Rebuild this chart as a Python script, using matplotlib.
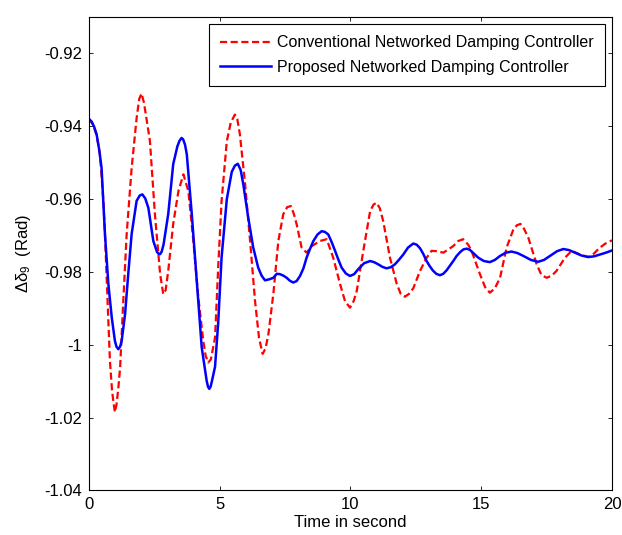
import matplotlib
matplotlib.use('Agg')
import matplotlib.pyplot as plt

plt.rcParams['font.family'] = ['Liberation Sans', 'DejaVu Sans']
plt.rcParams['mathtext.fontset'] = 'custom'
plt.rcParams['mathtext.rm'] = 'Liberation Sans'
plt.rcParams['mathtext.it'] = 'Liberation Sans:italic'

# Conventional networked damping controller
t_conv = [0.0, 0.15, 0.29, 0.42, 0.55, 0.61, 0.71, 0.8, 0.88, 0.93, 0.99, 1.05,
          1.12, 1.19, 1.31, 1.44, 1.63, 1.82, 1.92, 2.01, 2.1, 2.2, 2.33, 2.52,
          2.72, 2.84, 2.93, 3.03, 3.22, 3.42, 3.61, 3.8, 3.99, 4.18, 4.37, 4.46,
          4.56, 4.66, 4.82, 4.94, 5.07, 5.27, 5.42, 5.58, 5.67, 5.77, 5.97, 6.16,
          6.35, 6.5, 6.64, 6.75, 6.86, 7.05, 7.24, 7.43, 7.58, 7.72, 7.83, 7.94,
          8.13, 8.32, 8.52, 8.83, 9.09, 9.34, 9.6, 9.79, 9.98, 10.12, 10.24,
          10.49, 10.75, 10.88, 11.0, 11.12, 11.25, 11.51, 11.77, 11.92, 12.08,
          12.24, 12.4, 12.66, 12.91, 13.1, 13.3, 13.55, 13.93, 14.12, 14.31,
          14.5, 14.63, 14.95, 15.15, 15.33, 15.52, 15.72, 15.97, 16.23, 16.36,
          16.5, 16.64, 16.8, 17.12, 17.3, 17.5, 17.7, 17.88, 18.2, 18.46, 18.78,
          19.09, 19.3, 19.54, 19.75, 20.0]
d_conv = [-0.938, -0.9395, -0.9425, -0.9477, -0.9605, -0.9696, -0.988, -1.0044,
          -1.0125, -1.0155, -1.0185, -1.0165, -1.012, -1.0062, -0.988, -0.9696,
          -0.9515, -0.9378, -0.9325, -0.931, -0.9335, -0.938, -0.9441, -0.9641,
          -0.9806, -0.9861, -0.985, -0.9797, -0.9668, -0.9578, -0.9532, -0.9578,
          -0.9715, -0.987, -0.9989, -1.003, -1.0049, -1.004, -0.998, -0.9788,
          -0.9605, -0.9441, -0.939, -0.9368, -0.938, -0.9422, -0.9559, -0.9715,
          -0.988, -0.998, -1.0025, -1.001, -0.9971, -0.986, -0.9715, -0.9641,
          -0.9622, -0.9619, -0.964, -0.9669, -0.9733, -0.9747, -0.9729, -0.9715,
          -0.971, -0.9761, -0.9833, -0.988, -0.9898, -0.988, -0.9852, -0.9742,
          -0.9633, -0.9615, -0.961, -0.9625, -0.966, -0.9761, -0.9833, -0.986,
          -0.9868, -0.986, -0.9845, -0.9797, -0.9761, -0.9742, -0.9743, -0.9747,
          -0.9729, -0.9715, -0.971, -0.9725, -0.9742, -0.9806, -0.9842, -0.9857,
          -0.9845, -0.9816, -0.9733, -0.9683, -0.9672, -0.9668, -0.9682, -0.9706,
          -0.9779, -0.9808, -0.9816, -0.981, -0.9797, -0.9761, -0.9742, -0.9752,
          -0.9759, -0.975, -0.9733, -0.9722, -0.9713]

# Proposed networked damping controller
t_prop = [0.0, 0.1, 0.2, 0.29, 0.38, 0.48, 0.61, 0.74, 0.87, 0.99, 1.05, 1.12,
          1.19, 1.25, 1.38, 1.5, 1.63, 1.82, 1.94, 2.04, 2.15, 2.27, 2.46, 2.6,
          2.66, 2.72, 2.78, 2.85, 3.03, 3.22, 3.38, 3.46, 3.54, 3.6, 3.67, 3.74,
          3.93, 4.12, 4.31, 4.5, 4.55, 4.6, 4.65, 4.7, 4.82, 4.94, 5.07, 5.27,
          5.46, 5.58, 5.69, 5.8, 5.9, 6.09, 6.28, 6.47, 6.6, 6.73, 6.9, 7.05,
          7.18, 7.3, 7.43, 7.56, 7.68, 7.81, 7.94, 8.07, 8.2, 8.32, 8.45, 8.58,
          8.74, 8.9, 9.02, 9.15, 9.28, 9.41, 9.54, 9.66, 9.82, 9.98, 10.14, 10.3,
          10.52, 10.75, 10.9, 11.06, 11.22, 11.38, 11.54, 11.7, 11.86, 12.02,
          12.2, 12.4, 12.53, 12.66, 12.78, 12.91, 13.03, 13.15, 13.28, 13.42,
          13.55, 13.68, 13.8, 13.93, 14.06, 14.2, 14.32, 14.44, 14.56, 14.68,
          14.89, 15.1, 15.33, 15.52, 15.72, 15.94, 16.16, 16.38, 16.61, 16.9,
          17.18, 17.4, 17.63, 17.9, 18.14, 18.36, 18.58, 18.84, 19.09, 19.32,
          19.54, 19.77, 20.0]
d_prop = [-0.938, -0.9387, -0.9402, -0.9422, -0.946, -0.9514, -0.9696, -0.9833,
          -0.9925, -0.9989, -1.0005, -1.0012, -1.0005, -0.9989, -0.9915, -0.9806,
          -0.9696, -0.9605, -0.959, -0.9587, -0.9598, -0.9624, -0.9715, -0.9745,
          -0.975, -0.9751, -0.9744, -0.9725, -0.9641, -0.9504, -0.9455, -0.944,
          -0.9432, -0.9436, -0.945, -0.9477, -0.9641, -0.9825, -1.0007, -1.0099,
          -1.0115, -1.0121, -1.0115, -1.01, -1.006, -0.994, -0.976, -0.96,
          -0.9525, -0.9508, -0.9503, -0.952, -0.9559, -0.9651, -0.9733, -0.9788,
          -0.981, -0.9823, -0.982, -0.9816, -0.9805, -0.9806, -0.981, -0.9816,
          -0.9824, -0.9829, -0.9825, -0.9811, -0.979, -0.9761, -0.9737, -0.9715,
          -0.9697, -0.9688, -0.969, -0.9697, -0.9718, -0.9742, -0.9767, -0.9788,
          -0.9804, -0.9811, -0.9806, -0.9792, -0.9776, -0.977, -0.9773, -0.9779,
          -0.9786, -0.979, -0.9787, -0.9779, -0.9766, -0.9752, -0.9733, -0.9722,
          -0.9725, -0.9735, -0.975, -0.977, -0.9784, -0.9796, -0.9805, -0.9809,
          -0.9805, -0.9795, -0.9783, -0.977, -0.9756, -0.9745, -0.9738, -0.9736,
          -0.9739, -0.9747, -0.9761, -0.977, -0.9773, -0.9767, -0.9756, -0.9747,
          -0.9744, -0.9748, -0.9756, -0.9767, -0.9772, -0.9767, -0.9756, -0.9743,
          -0.9737, -0.974, -0.9747, -0.9755, -0.9759, -0.9757, -0.9752, -0.9747,
          -0.9741]

x_ticks = [0, 5, 10, 15, 20]
y_ticks = [-1.04, -1.02, -1.0, -0.98, -0.96, -0.94, -0.92]
y_tick_labels = ['-1.04', '-1.02', '-1', '-0.98', '-0.96', '-0.94', '-0.92']

fig = plt.figure(figsize=(6.22, 5.35), dpi=100)
ax = fig.add_axes([0.1431, 0.0832, 0.8408, 0.885])

ax.plot(t_conv, d_conv, color='#ff0000', lw=1.6, linestyle=(0, (3.2, 1.6)),
        label='Conventional Networked Damping Controller')
ax.plot(t_prop, d_prop, color='#0000ff', lw=1.8,
        label='Proposed Networked Damping Controller')

ax.set_xlim(0, 20)
ax.set_ylim(-1.04, -0.91)
ax.set_xticks(x_ticks)
ax.set_yticks(y_ticks)
ax.set_yticklabels(y_tick_labels)
ax.tick_params(direction='in', length=3, width=0.6, labelsize=12, pad=5,
               top=True, right=True, colors='black')
for sp in ax.spines.values():
    sp.set_linewidth(0.8)

ax.set_xlabel('Time in second', fontsize=12, labelpad=2)
ax.set_ylabel(r'$\mathrm{\Delta\delta_9}$  (Rad)', fontsize=12, labelpad=8)

leg = ax.legend(loc='upper right', fontsize=11.5, handlelength=3.2,
                fancybox=False, framealpha=1, edgecolor='black',
                borderpad=0.7, labelspacing=0.6, handletextpad=0.35,
                borderaxespad=0.45)
leg.get_frame().set_linewidth(0.8)

fig.savefig('out.png', dpi=100)
